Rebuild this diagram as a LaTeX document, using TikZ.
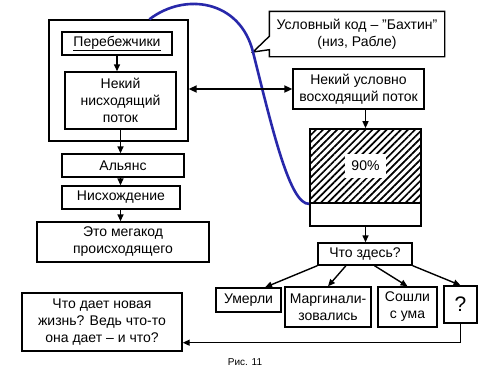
\documentclass[tikz,border=0pt]{standalone}
\usepackage{fontspec}
\setmainfont{Liberation Sans}
\usepackage{xcolor}
\definecolor{curveblue}{RGB}{40,40,170}
\usetikzlibrary{arrows.meta,calc,patterns.meta}
\tikzset{
  box/.style     ={rectangle,draw=black,line width=1.4pt,align=center,inner sep=0pt,
                   font=\fontsize{14}{17}\selectfont},
  flow/.style    ={-{Triangle[length=7pt,width=6pt]},line width=1.4pt,draw=black},
  bothflow/.style={{Triangle[length=8pt,width=7pt]}-{Triangle[length=8pt,width=7pt]},line width=2.6pt,draw=black},
  bluecurve/.style={draw=curveblue,line width=2.6pt},
  hatched/.style ={pattern={Lines[angle=45,distance=5pt,line width=1.7pt]}},
}

\begin{document}
\begin{tikzpicture}[x=1pt,y=-1pt]
  \useasboundingbox[fill=white] (0,0) rectangle (500,375);
  % left column
  \node[box,minimum width=139pt,minimum height=121pt] (outer) at (118.5,80.5) {};
  \node[box,minimum width=110pt,minimum height=23pt] (pereb) at (117,43.5) {\underline{Перебежчики}};
  \node[box,minimum width=111pt,minimum height=57pt] (down) at (120.5,100.5) {Некий\\нисходящий\\поток};
  \node[box,minimum width=122pt,minimum height=23pt] (alliance) at (123,165.5) {Альянс};
  \node[box,minimum width=118pt,minimum height=23pt] (descent) at (121,197.5) {Нисхождение};
  \node[box,minimum width=172pt,minimum height=40pt] (mega) at (123,242) {Это мегакод\\происходящего};
  \node[box,minimum width=160pt,minimum height=58pt] (life) at (102,322) {Что дает новая\\жизнь? Ведь что-то\\она дает -- и что?};
  % right column
  \coordinate (tip) at (253,52);
  \node[box,draw=none,minimum width=174pt,minimum height=44pt] (code) at (357,34) {Условный код -- "Бахтин"\\(низ, Рабле)};
  \draw[line width=1.4pt] (code.north west) -- (code.north east) -- (code.south east) -- (code.south west)
    -- ($(code.south west)+(0,-7)$) -- (tip) -- ($(code.north west)+(0,25)$) -- cycle;
  \node[box,minimum width=131pt,minimum height=40pt] (up) at (358.5,89) {Некий условно\\восходящий поток};
  \node[box,hatched,minimum width=111pt,minimum height=74pt] (hatch) at (365.5,166) {};
  \node[fill=white,inner xsep=6pt,inner ysep=7pt,font=\fontsize{14}{17}\selectfont] (pct) at (hatch) {90\%};
  \node[box,minimum width=111pt,minimum height=23pt] (base) at (365.5,214.5) {};
  \node[box,minimum width=94pt,minimum height=22pt] (what) at (365,254) {Что здесь?};
  \node[box,minimum width=65pt,minimum height=24pt] (died) at (248.5,300) {Умерли};
  \node[box,minimum width=86pt,minimum height=40pt] (marg) at (328,307) {Маргинали-\\зовались};
  \node[box,minimum width=59pt,minimum height=40pt] (mad) at (407.5,307) {Сошли\\с ума};
  \node[box,minimum width=33pt,minimum height=37pt,font=\fontsize{21}{24}\selectfont] (q) at (460.5,304.5) {?};
  \node[font=\fontsize{10}{12}\selectfont] (fig) at (245,362) {Рис. 11};
  % connectors
  \draw[bluecurve] ($(outer.north west)!0.72!(outer.north east)$) .. controls (185,-8) and (240,0) .. (tip)
    .. controls (272.5,130) and (290,205) .. (hatch.south west);
  \draw[flow] (pereb.south) -- (pereb.south |- down.north);
  \draw[flow] (down.south) -- (down.south |- alliance.north);
  \draw[flow] (down.south |- alliance.south) -- (down.south |- descent.north);
  \draw[flow] (down.south |- descent.south) -- (down.south |- mega.north);
  \draw[bothflow] (outer.east |- up.west) -- (up.west);
  \draw[flow] (hatch.north |- up.south) -- (hatch.north);
  \draw[flow] (base.south) -- (base.south |- what.north);
  \draw[flow] (what.south west) -- ($(died.north)!0.5!(died.north east)$);
  \draw[flow] ($(what.south west)!0.3!(what.south east)$) -- (marg.north);
  \draw[flow] ($(what.south west)!0.6!(what.south east)$) -- (mad.north);
  \draw[flow] (what.south east) -- (q.north);
  \draw[flow] (q.south) |- ($(life.south east)+(0,-9)$);
\end{tikzpicture}
\end{document}
